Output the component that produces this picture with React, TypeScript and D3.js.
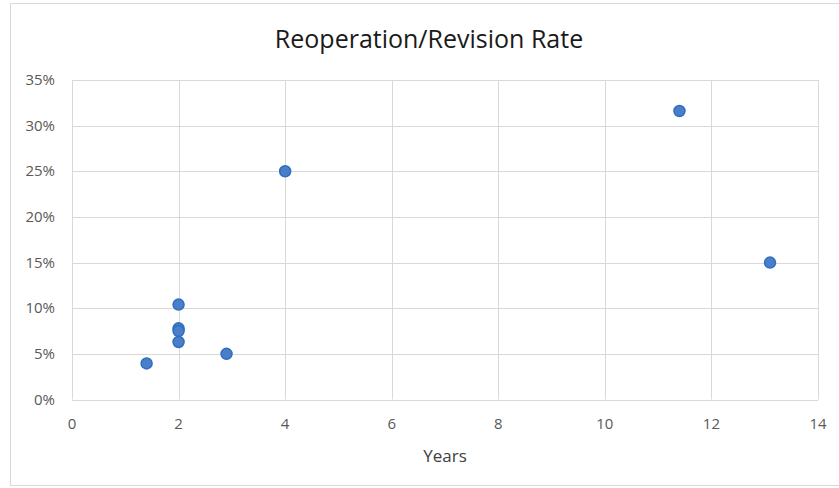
import React from "react";
import * as d3 from "d3";

const years = [1.4, 2, 2, 2, 2, 2.9, 4, 11.4, 13.1];
const rates = [3.95, 10.4, 7.8, 7.5, 6.3, 5.0, 25.0, 31.6, 15.0];
const xTicks = [0, 2, 4, 6, 8, 10, 12, 14];
const yTicks = [0, 5, 10, 15, 20, 25, 30, 35];
const title = "Reoperation/Revision Rate";
const xLabel = "Years";

export default function App() {
  const W = 839, H = 488;
  const left = 72, right = 818, top = 80, bottom = 399.5;
  const x = d3.scaleLinear().domain([0, 14]).range([left, right]);
  const y = d3.scaleLinear().domain([0, 35]).range([bottom, top]);
  const font = "'Open Sans', 'Noto Sans', sans-serif";
  return (
    <svg width={W} height={H} style={{ position: "absolute", left: 0, top: 0 }}>
      <rect x={0} y={0} width={W} height={H} fill="#fff" />
      <rect x={10.5} y={3.5} width={W + 5} height={482} fill="none" stroke="#d9d9d9" />
      <text x={429} y={48} textAnchor="middle" fontFamily={font} fontSize={25} fill="#1a1a1a">{title}</text>
      {yTicks.map((t) => (
        <line key={"gy" + t} x1={left} x2={right} y1={Math.round(y(t)) + 0.5} y2={Math.round(y(t)) + 0.5} stroke="#d9d9d9" />
      ))}
      {xTicks.map((t) => (
        <line key={"gx" + t} x1={Math.round(x(t)) + 0.5} x2={Math.round(x(t)) + 0.5} y1={top} y2={bottom} stroke="#d9d9d9" />
      ))}
      {yTicks.map((t) => (
        <text key={"ty" + t} x={55} y={y(t) + 5} textAnchor="end" fontFamily={font} fontSize={15} fill="#595959">{t + "%"}</text>
      ))}
      {xTicks.map((t) => (
        <text key={"tx" + t} x={x(t)} y={429} textAnchor="middle" fontFamily={font} fontSize={15} fill="#595959">{t}</text>
      ))}
      <text x={445} y={462} textAnchor="middle" fontFamily={font} fontSize={17} fill="#404040">{xLabel}</text>
      {years.map((v, i) => (
        <circle key={"p" + i} cx={x(v)} cy={y(rates[i])} r={5.5} fill="#4A7EC8" stroke="#2E6FBF" strokeWidth={1.5} />
      ))}
    </svg>
  );
}
